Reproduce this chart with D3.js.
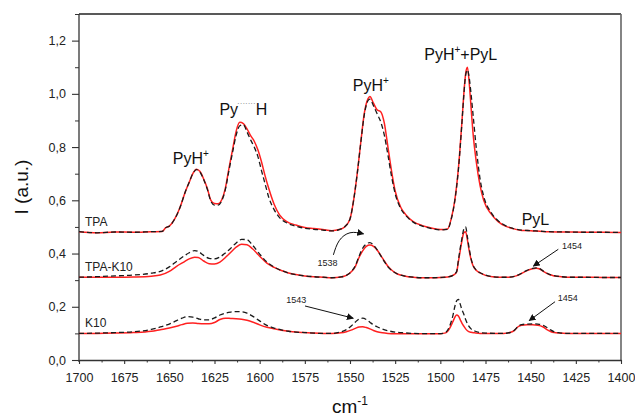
<!DOCTYPE html>
<html><head><meta charset="utf-8">
<script src="https://cdn.jsdelivr.net/npm/d3@7/dist/d3.min.js"></script>
<style>body{margin:0;background:#fff}svg{display:block;font-family:"Liberation Sans",Arial,sans-serif}</style>
</head><body><svg id="c" width="635" height="418"></svg>
<script>
// ---- data ----
const xTicks = [1700,1675,1650,1625,1600,1575,1550,1525,1500,1475,1450,1425,1400];
const yTicks = [0,0.2,0.4,0.6,0.8,1.0,1.2];

const wnTPA = [1700,1690,1680,1670,1660,1654,1652,1650,1647,1644,
1641,1639,1637,1635,1633,1631,1629,1627,1625,1623,
1621,1619,1617,1615,1613,1611,1609,1607,1605,1603,
1601,1599,1597,1595,1592,1589,1585,1580,1575,1570,
1565,1560,1556,1553,1550,1548,1546,1544,1542,1540,
1539,1537,1535,1533,1531,1529,1527,1525,1522,1519,
1515,1510,1505,1500,1496,1494,1492,1490,1488,1487,
1486,1485,1484,1483,1482,1480,1478,1476,1472,1468,
1464,1460,1455,1450,1445,1440,1430,1420,1410,1400];
const tpaRed = [0.482,0.478,0.481,0.480,0.482,0.483,0.497,0.503,0.530,0.575,
0.635,0.668,0.700,0.717,0.708,0.680,0.645,0.600,0.588,0.587,
0.602,0.645,0.720,0.790,0.860,0.893,0.888,0.868,0.843,0.822,
0.790,0.745,0.692,0.645,0.585,0.545,0.520,0.507,0.498,0.494,
0.490,0.486,0.490,0.500,0.530,0.600,0.700,0.820,0.930,0.982,
0.990,0.965,0.940,0.933,0.890,0.800,0.710,0.635,0.575,0.545,
0.520,0.505,0.496,0.490,0.492,0.530,0.600,0.720,0.900,1.000,
1.075,1.100,1.040,0.950,0.860,0.740,0.655,0.600,0.550,0.520,
0.503,0.494,0.487,0.486,0.484,0.482,0.481,0.480,0.480,0.479];
const tpaDash = [0.482,0.478,0.481,0.480,0.482,0.483,0.497,0.503,0.530,0.575,
0.635,0.668,0.700,0.715,0.706,0.678,0.642,0.596,0.582,0.582,
0.598,0.640,0.712,0.780,0.845,0.880,0.884,0.857,0.827,0.800,
0.765,0.712,0.662,0.612,0.565,0.535,0.515,0.503,0.495,0.491,
0.488,0.485,0.490,0.500,0.530,0.600,0.700,0.818,0.925,0.975,
0.980,0.955,0.925,0.895,0.845,0.770,0.690,0.625,0.570,0.542,
0.518,0.503,0.494,0.489,0.491,0.528,0.598,0.715,0.895,0.995,
1.070,1.090,1.060,1.000,0.930,0.790,0.680,0.615,0.555,0.523,
0.505,0.495,0.488,0.486,0.484,0.482,0.481,0.480,0.480,0.479];

const wnTK = [1700,1690,1680,1670,1660,1655,1650,1646,1642,1639,
1636,1634,1631,1628,1625,1622,1619,1616,1613,1610,
1607,1604,1600,1596,1592,1588,1584,1580,1575,1570,
1565,1560,1555,1552,1549,1547,1545,1543,1541,1539,
1537,1535,1533,1531,1529,1527,1524,1520,1515,1510,
1505,1500,1496,1493,1491,1490,1489,1488,1487,1486,
1485,1484,1483,1482,1480,1478,1475,1471,1466,1462,
1458,1455,1452,1449,1447,1445,1443,1440,1437,1433,
1428,1420,1410,1400];
const tkRed = [0.311,0.311,0.311,0.312,0.315,0.319,0.333,0.352,0.368,0.380,
0.386,0.385,0.372,0.362,0.361,0.368,0.385,0.405,0.424,0.435,
0.433,0.418,0.390,0.364,0.348,0.336,0.327,0.321,0.316,0.313,
0.311,0.309,0.312,0.318,0.333,0.352,0.385,0.410,0.427,0.432,
0.427,0.413,0.393,0.372,0.352,0.338,0.324,0.316,0.311,0.309,
0.309,0.310,0.312,0.318,0.330,0.370,0.410,0.450,0.478,0.482,
0.450,0.410,0.378,0.356,0.336,0.327,0.318,0.313,0.311,0.311,
0.316,0.325,0.336,0.343,0.345,0.342,0.333,0.322,0.316,0.313,
0.311,0.311,0.310,0.310];
const tkDash = [0.311,0.313,0.316,0.319,0.326,0.333,0.350,0.370,0.390,0.403,
0.411,0.408,0.393,0.382,0.380,0.387,0.402,0.420,0.440,0.453,
0.452,0.432,0.398,0.368,0.349,0.336,0.327,0.321,0.316,0.313,
0.311,0.309,0.312,0.318,0.334,0.355,0.390,0.420,0.436,0.441,
0.432,0.414,0.392,0.370,0.350,0.337,0.324,0.316,0.311,0.309,
0.309,0.310,0.312,0.318,0.332,0.375,0.420,0.458,0.492,0.500,
0.462,0.418,0.382,0.358,0.337,0.328,0.319,0.313,0.311,0.311,
0.316,0.326,0.337,0.344,0.346,0.343,0.334,0.323,0.317,0.313,
0.311,0.311,0.310,0.310];

const wnK = [1700,1690,1680,1670,1660,1655,1650,1646,1643,1640,
1637,1634,1631,1628,1625,1622,1619,1616,1613,1610,
1607,1604,1600,1596,1592,1588,1584,1580,1575,1570,
1565,1560,1555,1552,1549,1547,1545,1543,1541,1539,
1537,1535,1532,1529,1525,1520,1515,1510,1505,1500,
1497,1495,1493,1492,1491,1490,1489,1488,1487,1486,
1485,1483,1481,1478,1474,1470,1465,1461,1459,1457,
1455,1452,1449,1446,1443,1441,1439,1437,1434,1430,
1420,1410,1400];
const kRed = [0.100,0.100,0.101,0.103,0.108,0.114,0.120,0.127,0.133,0.138,
0.139,0.137,0.136,0.136,0.141,0.152,0.157,0.156,0.155,0.153,
0.149,0.143,0.132,0.123,0.117,0.112,0.108,0.105,0.103,0.101,
0.100,0.100,0.102,0.106,0.113,0.119,0.124,0.125,0.122,0.117,
0.111,0.106,0.102,0.100,0.099,0.099,0.099,0.099,0.099,0.099,
0.102,0.117,0.145,0.160,0.169,0.165,0.152,0.138,0.127,0.117,
0.110,0.104,0.102,0.100,0.100,0.100,0.100,0.104,0.111,0.125,
0.131,0.132,0.132,0.131,0.124,0.114,0.107,0.103,0.101,0.100,
0.100,0.100,0.100];
const kDash = [0.100,0.101,0.103,0.106,0.115,0.124,0.135,0.148,0.157,0.163,
0.161,0.155,0.151,0.151,0.158,0.169,0.176,0.180,0.182,0.181,
0.176,0.165,0.147,0.130,0.120,0.113,0.108,0.105,0.103,0.101,
0.100,0.100,0.106,0.114,0.130,0.143,0.154,0.157,0.152,0.142,
0.132,0.125,0.116,0.110,0.105,0.102,0.100,0.099,0.099,0.099,
0.104,0.125,0.168,0.200,0.222,0.228,0.210,0.188,0.172,0.152,
0.136,0.117,0.109,0.103,0.101,0.100,0.100,0.104,0.112,0.126,
0.133,0.135,0.136,0.135,0.130,0.122,0.113,0.106,0.102,0.100,
0.100,0.100,0.100];

const sampleNames = ["TPA","TPA-K10","K10"];
const bandLabels = ["PyH","Py","PyH","PyH","PyL"];
const bandNumbers = ["1538","1543","1454","1454"];

// ---- drawing ----
const W = 635, H = 418;
const m = {l:79, r:14, t:14, b:58};
const svg = d3.select("#c");
const x = d3.scaleLinear().domain([1700,1400]).range([m.l, W-m.r]);
const y = d3.scaleLinear().domain([0,1.3]).range([H-m.b, m.t]);
const fmt = v => d3.format(".1f")(v).replace(".", ",");

// frame
svg.append("line").attr("x1",m.l).attr("x2",W-m.r).attr("y1",m.t).attr("y2",m.t)
  .attr("stroke","#222").attr("stroke-width",1.3);
svg.append("line").attr("x1",W-m.r).attr("x2",W-m.r).attr("y1",m.t).attr("y2",H-m.b)
  .attr("stroke","#666").attr("stroke-width",1.6);

// minor ticks
const xMinor = d3.range(1700, 1399, -12.5).filter(v => !xTicks.includes(v));
svg.append("g").attr("transform",`translate(0,${H-m.b})`)
  .call(d3.axisBottom(x).tickValues(xMinor).tickSize(2.5).tickFormat("").tickSizeOuter(0))
  .call(g=>g.select(".domain").remove()).selectAll("line").attr("stroke","#333");
const yMinor = d3.range(0.1, 1.31, 0.2);
svg.append("g").attr("transform",`translate(${m.l},0)`)
  .call(d3.axisLeft(y).tickValues(yMinor).tickSize(4).tickFormat("").tickSizeOuter(0))
  .call(g=>g.select(".domain").remove()).selectAll("line").attr("stroke","#333");

// main axes
const gx = svg.append("g").attr("transform",`translate(0,${H-m.b})`)
  .call(d3.axisBottom(x).tickValues(xTicks).tickSize(4).tickPadding(9).tickSizeOuter(0).tickFormat(d3.format("d")));
const gy = svg.append("g").attr("transform",`translate(${m.l},0)`)
  .call(d3.axisLeft(y).tickValues(yTicks).tickSize(7).tickPadding(6).tickSizeOuter(0).tickFormat(fmt));
gy.select(".domain").attr("d",`M0,${y(1.3)}V${H-m.b+2}`);
[gx,gy].forEach(g=>{
  g.select(".domain").attr("stroke","#333").attr("stroke-width",1.3);
  g.selectAll(".tick line").attr("stroke","#333").attr("stroke-width",1.1);
  g.selectAll(".tick text").attr("font-size","12.5px").attr("fill","#222")
    .attr("font-family",'"Liberation Sans",Arial,sans-serif');
});

// axis titles
svg.append("text").attr("transform",`translate(28,${(m.t+H-m.b)/2}) rotate(-90)`)
  .attr("text-anchor","middle").attr("font-size","19px").attr("fill","#111").text("I (a.u.)");
const xt = svg.append("text").attr("x",(m.l+W-m.r)/2).attr("y",413)
  .attr("text-anchor","middle").attr("font-size","19px").attr("fill","#111");
xt.append("tspan").text("cm");
xt.append("tspan").attr("font-size","12px").attr("dy",-8).text("-1");

// curves
const line = d3.line().x(d=>x(d[0])).y(d=>y(d[1])).curve(d3.curveMonotoneX);
const pairs = [[wnTPA,tpaRed,tpaDash],[wnTK,tkRed,tkDash],[wnK,kRed,kDash]];
pairs.forEach(([wn,r,dsh])=>{
  svg.append("path").attr("d",line(wn.map((w,i)=>[w,r[i]])))
    .attr("fill","none").attr("stroke","#ff2020").attr("stroke-width",1.5);
  svg.append("path").attr("d",line(wn.map((w,i)=>[w,dsh[i]])))
    .attr("fill","none").attr("stroke","#1a1a1a").attr("stroke-width",1.3)
    .attr("stroke-dasharray","5,3");
});

// sample names
const nameAt = [[1696.7,0.504],[1696.7,0.334],[1696.7,0.124]];
sampleNames.forEach((n,i)=>{
  svg.append("text").attr("x",x(nameAt[i][0])).attr("y",y(nameAt[i][1]))
    .attr("font-size","12px").attr("fill","#222").text(n);
});

// band labels
function supLabel(wn, v, base, sup, tail){
  const t = svg.append("text").attr("x",x(wn)).attr("y",y(v)).attr("font-size","16px").attr("fill","#111");
  t.append("tspan").text(base);
  t.append("tspan").attr("font-size","10px").attr("dy",-7).text(sup);
  if (tail) t.append("tspan").attr("dy",7).text(tail);
  return t;
}
supLabel(1648.1,0.737,bandLabels[0],"+");
supLabel(1548.5,1.011,bandLabels[2],"+");
supLabel(1508.9,1.128,bandLabels[3],"+","+PyL");
{
  const t = svg.append("text").attr("x",x(1622.3)).attr("y",y(0.921)).attr("font-size","16px").attr("fill","#111");
  t.append("tspan").text(bandLabels[1]);
  t.append("tspan").attr("font-size","8px").attr("fill","#777").attr("dy",-9).attr("dx",-1).text("·······");
  t.append("tspan").attr("dy",9).text("H");
}
svg.append("text").attr("x",x(1455)).attr("y",y(0.507)).attr("font-size","16px").attr("fill","#111").text(bandLabels[4]);

// arrows
const defs = svg.append("defs");
defs.append("marker").attr("id","ah").attr("viewBox","0 0 10 10").attr("refX",9).attr("refY",5)
  .attr("markerWidth",7).attr("markerHeight",7).attr("orient","auto").attr("markerUnits","userSpaceOnUse")
  .append("path").attr("d","M0,0L10,5L0,10z").attr("fill","#111");
const annPos = [
  {t:[1562.5,0.366], pts:[[1559.2,0.395],[1556,0.448],[1550,0.478],[1542.5,0.474]], curve:true},
  {t:[1579.7,0.225], pts:[[1574.9,0.203],[1548.2,0.157]]},
  {t:[1427.1,0.428], pts:[[1434.7,0.416],[1448.5,0.353]]},
  {t:[1429.5,0.232], pts:[[1436.5,0.219],[1450.8,0.148]]}
];
const aline = d3.line().x(d=>x(d[0])).y(d=>y(d[1]));
annPos.forEach((a,i)=>{
  svg.append("text").attr("x",x(a.t[0])).attr("y",y(a.t[1])).attr("dy","0.35em")
    .attr("text-anchor","middle").attr("font-size","9px").attr("fill","#222").text(bandNumbers[i]);
  svg.append("path").attr("d",(a.curve?aline.curve(d3.curveNatural):aline.curve(d3.curveLinear))(a.pts))
    .attr("fill","none").attr("stroke","#111").attr("stroke-width",1).attr("marker-end","url(#ah)");
});
</script></body></html>
